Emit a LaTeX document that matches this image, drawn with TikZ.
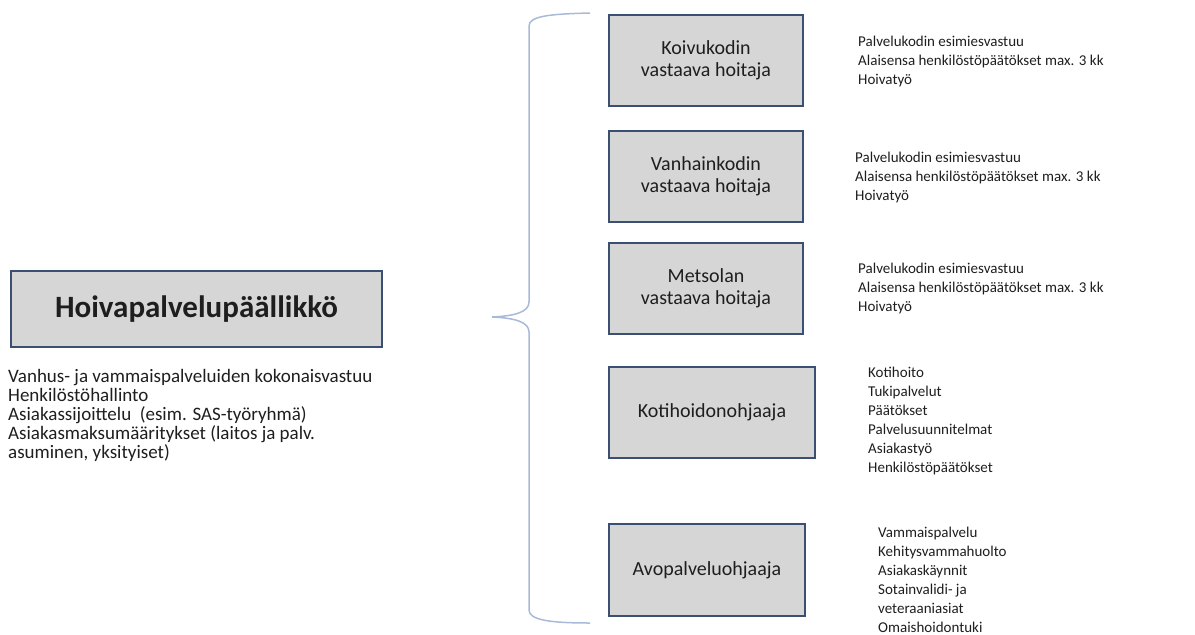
\documentclass[tikz,border=0pt]{standalone}
\usepackage{fontspec}
\setmainfont{Carlito}
\definecolor{boxfill}{HTML}{D6D6D6}
\definecolor{boxline}{HTML}{3A4F72}
\definecolor{bracecol}{HTML}{A9BAD9}
\definecolor{txt}{HTML}{1E1E1E}

\begin{document}
\begin{tikzpicture}[x=1pt,y=-1pt,
  rolebox/.style={draw=boxline, line width=2.4pt, fill=boxfill, text=txt,
    align=center, inner sep=0pt, font=\fontsize{20}{22}\selectfont},
  duties/.style={anchor=west, align=left, inner sep=0pt, text=txt,
    font=\fontsize{15}{19}\selectfont},
  brace/.style={draw=bracecol, line width=1.5pt}]

\useasboundingbox (0,0) rectangle (1195,635);

% chief and own duties
\node[rolebox, minimum width=371pt, minimum height=76pt,
  font=\fontsize{31}{32}\selectfont\bfseries] at (196.5,309) (chief) {Hoivapalvelupäällikkö};
\node[duties, font=\fontsize{19}{19}\selectfont] at (8,415) (chieftxt)
  {Vanhus- ja vammaispalveluiden kokonaisvastuu\\Henkilöstöhallinto\\
   Asiakassijoittelu~ (esim. SAS-työryhmä)\\Asiakasmaksumääritykset (laitos ja palv.\\
   asuminen, yksityiset)};

% the brace
\coordinate (btop) at (590,13);
\coordinate (btip) at (492,317);
\coordinate (bbot) at (590,623);
\draw[brace] (btop) .. controls (550,14) and (529,16) .. (529,26) -- (529,302)
  .. controls (529,312) and (515,316) .. (btip)
  .. controls (515,318) and (529,322) .. (529,332) -- (529,610)
  .. controls (529,620) and (550,623) .. (bbot);

% units
\node[rolebox, minimum width=194pt, minimum height=91pt] at (706,60.5) (koivu)
  {Koivukodin\\vastaava hoitaja};
\node[rolebox, minimum width=194pt, minimum height=91pt] at (706,176.5) (vanha)
  {Vanhainkodin\\vastaava hoitaja};
\node[rolebox, minimum width=194pt, minimum height=91pt] at (706,288.5) (metso)
  {Metsolan\\vastaava hoitaja};
\node[rolebox, minimum width=206pt, minimum height=91pt] at (712,412.5) (koti)
  {Kotihoidonohjaaja};
\node[rolebox, minimum width=196pt, minimum height=92pt] at (707,570) (avo)
  {Avopalveluohjaaja};

\node[duties] at (858,61) (koivutxt)
  {Palvelukodin esimiesvastuu\\Alaisensa henkilöstöpäätökset max. 3 kk\\Hoivatyö};
\node[duties] at (855,177) (vanhatxt)
  {Palvelukodin esimiesvastuu\\Alaisensa henkilöstöpäätökset max. 3 kk\\Hoivatyö};
\node[duties] at (858,288) (metsotxt)
  {Palvelukodin esimiesvastuu\\Alaisensa henkilöstöpäätökset max. 3 kk\\Hoivatyö};
\node[duties] at (868,421) (kotitxt)
  {Kotihoito\\Tukipalvelut\\Päätökset\\Palvelusuunnitelmat\\Asiakastyö\\Henkilöstöpäätökset};
\node[duties] at (878,580) (avotxt)
  {Vammaispalvelu\\Kehitysvammahuolto\\Asiakaskäynnit\\Sotainvalidi- ja\\veteraaniasiat\\Omaishoidontuki};

\end{tikzpicture}
\end{document}
